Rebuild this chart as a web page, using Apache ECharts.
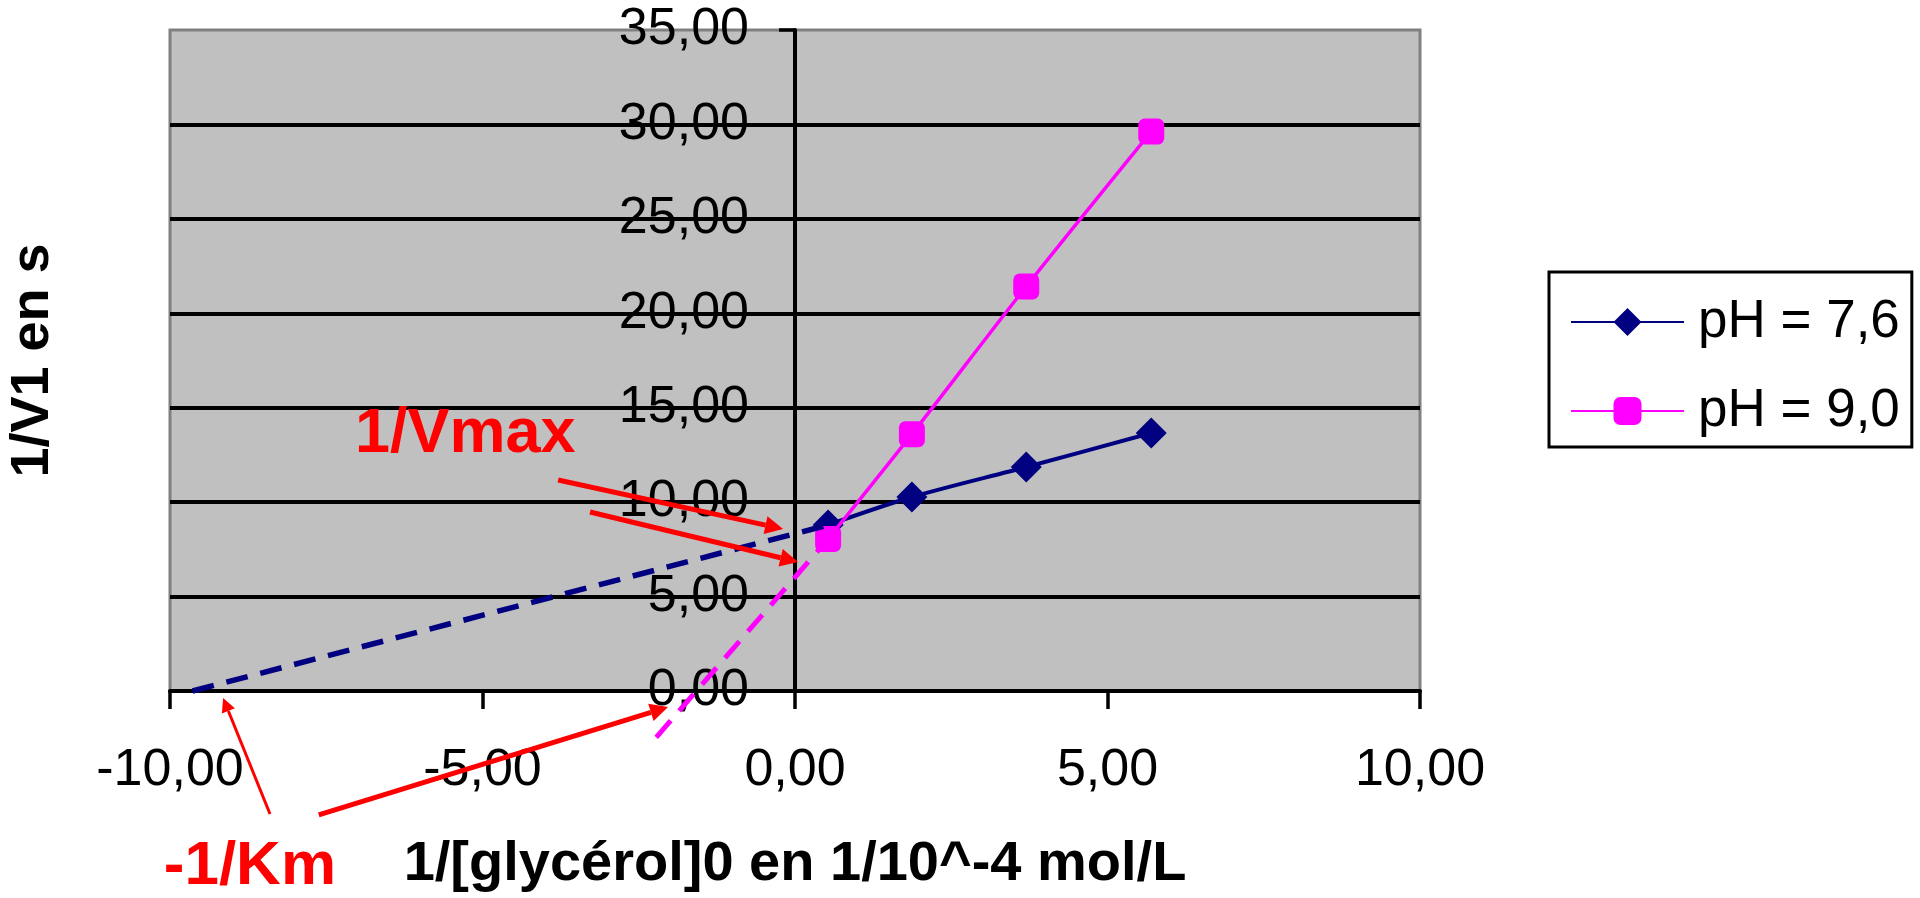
<!DOCTYPE html>
<html>
<head>
<meta charset="utf-8">
<title>1/V1 en fonction de 1/[glycérol]0</title>
<script src="https://cdn.jsdelivr.net/npm/echarts@6.0.0/dist/echarts.min.js"></script>
<style>
  html, body { margin: 0; padding: 0; background: #fff; }
  #chart { width: 1920px; height: 898px; }
</style>
</head>
<body>
<div id="chart"></div>
<script>
// 1/[glycérol]0 en 1/10^-4 mol/L
const xValues = [0.53, 1.87, 3.70, 5.70];
// 1/V1 en s
const ph76 = [8.79, 10.27, 11.86, 13.66];
const ph90 = [8.05, 13.60, 21.42, 29.62];
// droites prolongées jusqu'aux axes
const trend76 = [[-9.64, 0], [0.53, 8.79]];
const trend90 = [[-2.22, -2.45], [0.53, 8.05]];
const seriesNames = ['pH = 7,6', 'pH = 9,0'];
const xTicks = [-10, -5, 0, 5, 10];
const yTicks = [0, 5, 10, 15, 20, 25, 30, 35];

// annotations rouges, en coordonnées du graphe
const notes = [
  { text: '1/Vmax', at: [-7.04, 13.6], size: 63 },
  { text: '-1/Km', at: [-10.1, -9.3], size: 62 }
];
const arrows = [
  { from: [-3.79, 11.17], to: [-0.19, 8.58], w: 5 },
  { from: [-3.28, 9.48], to: [0.05, 6.83], w: 5 },
  { from: [-8.4, -6.51], to: [-9.15, -0.37], w: 3 },
  { from: [-7.62, -6.56], to: [-2.03, -0.85], w: 5 }
];

const FONT = '"Liberation Sans", Arial, sans-serif';
const fmt = v => v.toFixed(2).replace('.', ',');
const pairs = ys => xValues.map((x, i) => [x, ys[i]]);

const W = 1920, gridLeft = 170, gridRight = 500;
const xMin = xTicks[0], xMax = xTicks[xTicks.length - 1];
// the vertical axis sits on x = 0, labels included
const yAxisShift = (0 - xMin) / (xMax - xMin) * (W - gridLeft - gridRight);

const chart = echarts.init(document.getElementById('chart'));

chart.setOption({
  animation: false,
  textStyle: { fontFamily: FONT },
  grid: {
    left: gridLeft, right: gridRight, top: 30, bottom: 207,
    outerBoundsMode: 'none',
    show: true,
    backgroundColor: '#c0c0c0',
    borderColor: '#808080',
    borderWidth: 3
  },
  legend: {
    data: seriesNames,
    orient: 'vertical',
    left: 1549, top: 272,
    padding: [20, 12, 6, 21],
    itemWidth: 113,
    itemHeight: 35,
    itemGap: 29,
    borderColor: '#000',
    borderWidth: 3,
    backgroundColor: '#fff',
    textStyle: { fontSize: 53, color: '#000', fontFamily: FONT, lineHeight: 60, padding: [0, 0, 0, 9] }
  },
  xAxis: {
    type: 'value',
    min: xMin, max: xMax, interval: 5,
    name: '1/[glycérol]0 en 1/10^-4 mol/L',
    nameLocation: 'middle',
    nameGap: 146,
    nameTextStyle: { fontSize: 56, fontWeight: 'bold', color: '#000', fontFamily: FONT },
    axisLine: { show: true, onZero: false, lineStyle: { color: '#000', width: 4 } },
    axisTick: { show: true, inside: false, length: 18, lineStyle: { color: '#000', width: 3.5 } },
    axisLabel: { fontSize: 52, color: '#000', margin: 54, formatter: fmt },
    splitLine: { show: false }
  },
  yAxis: {
    type: 'value',
    min: yTicks[0], max: yTicks[yTicks.length - 1], interval: 5,
    offset: -yAxisShift,
    axisLine: { show: true, onZero: false, lineStyle: { color: '#000', width: 4 } },
    axisTick: { show: true, inside: false, length: 16, lineStyle: { color: '#000', width: 3.5 } },
    axisLabel: { fontSize: 52, color: '#000', margin: 46, formatter: fmt },
    splitLine: {
      show: true, showMinLine: false, showMaxLine: false,
      lineStyle: { color: '#000', width: 4 }
    }
  },
  series: [
    {
      name: seriesNames[0], type: 'line', data: pairs(ph76),
      smooth: 0.3, symbol: 'diamond', symbolSize: 31,
      itemStyle: { color: '#000080' },
      lineStyle: { color: '#000080', width: 4 }, z: 3
    },
    {
      name: seriesNames[1], type: 'line', data: pairs(ph90),
      smooth: 0.3, symbol: 'roundRect', symbolSize: 26,
      itemStyle: { color: '#ff00ff' },
      lineStyle: { color: '#ff00ff', width: 3.5 }, z: 4
    },
    {
      name: 'trend76', type: 'line', data: trend76, symbol: 'none', clip: false, silent: true,
      lineStyle: { color: '#000080', width: 5.5, type: [22, 13] }, z: 5
    },
    {
      name: 'trend90', type: 'line', data: trend90, symbol: 'none', clip: false, silent: true,
      lineStyle: { color: '#ff00ff', width: 5, type: [22, 13] }, z: 5
    }
  ]
});

// titre de l'axe vertical et annotations
const toPx = p => chart.convertToPixel({ gridIndex: 0 }, p);
const plotTop = toPx([0, yTicks[yTicks.length - 1]])[1];
const plotBottom = toPx([0, yTicks[0]])[1];
const graphic = [{
  type: 'text', x: 33, y: (plotTop + plotBottom) / 2, rotation: Math.PI / 2,
  style: { text: '1/V1 en s', fontSize: 54, fontWeight: 'bold', fontFamily: FONT,
           fill: '#000', align: 'center', verticalAlign: 'middle' }
}];
notes.forEach(n => {
  const p = toPx(n.at);
  graphic.push({
    type: 'text', x: p[0], y: p[1], z: 100,
    style: { text: n.text, fontSize: n.size, fontWeight: 'bold', fontFamily: FONT,
             fill: '#ff0000', align: 'left', verticalAlign: 'middle' }
  });
});
arrows.forEach(a => {
  const p1 = toPx(a.from), p2 = toPx(a.to);
  const dx = p2[0] - p1[0], dy = p2[1] - p1[1];
  const len = Math.hypot(dx, dy);
  const ux = dx / len, uy = dy / len;
  const hl = a.w * 2 + 8, hw = a.w + 4;
  const bx = p2[0] - ux * hl, by = p2[1] - uy * hl;
  graphic.push({
    type: 'line', z: 100,
    shape: { x1: p1[0], y1: p1[1], x2: bx, y2: by },
    style: { stroke: '#ff0000', lineWidth: a.w }
  });
  graphic.push({
    type: 'polygon', z: 100,
    shape: { points: [[p2[0], p2[1]], [bx - uy * hw, by + ux * hw], [bx + uy * hw, by - ux * hw]] },
    style: { fill: '#ff0000' }
  });
});
chart.setOption({ graphic: graphic });
</script>
</body>
</html>
